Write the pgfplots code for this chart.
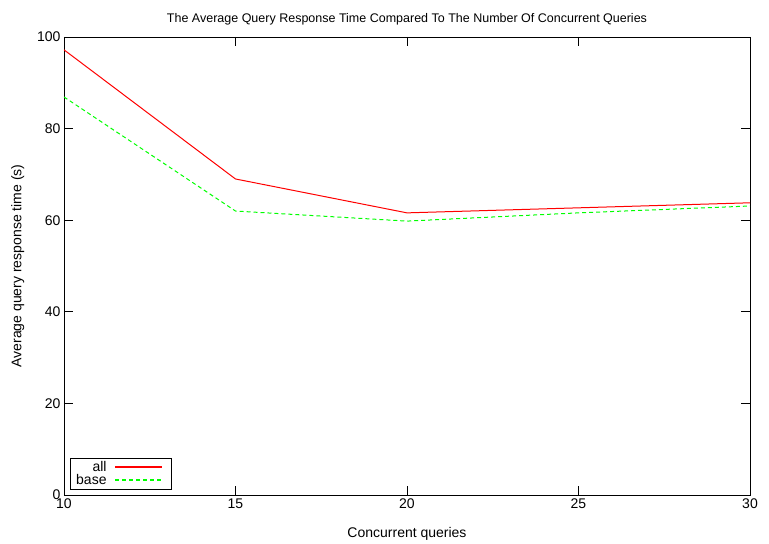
\documentclass[border=0pt]{standalone}
\usepackage{pgfplots}
\pgfplotsset{compat=1.18}
\usepackage{fontspec}
\setmainfont{Liberation Sans}
\definecolor{gpred}{RGB}{255,0,0}
\definecolor{gpgreen}{RGB}{0,255,0}

\begin{document}
\begin{tikzpicture}
\begin{axis}[
  name=ax,
  scale only axis,
  width=686pt, height=458pt,
  xmin=10, xmax=30, ymin=0, ymax=100,
  xtick={10,15,20,25,30},
  ytick={0,20,40,60,80,100},
  tick align=inside,
  major tick length=9pt,
  tick style={black, line width=0.8pt},
  axis line style={line width=0.8pt},
  /pgf/number format/assume math mode=true,
  tick label style={font=\fontsize{14}{16}\selectfont},
  title={The Average Query Response Time Compared To The Number Of Concurrent Queries},
  title style={font=\fontsize{12.5}{14}\selectfont, yshift=2pt},
  xlabel={Concurrent queries},
  ylabel={Average query response time (s)},
  label style={font=\fontsize{14}{16}\selectfont},
  xlabel style={yshift=-12pt},
  ylabel style={yshift=6pt},
  legend cell align=right,
  legend plot pos=right,
  legend style={at={(6pt,6pt)}, anchor=south west,
    font=\fontsize{14}{15}\selectfont, inner xsep=4pt, inner ysep=1pt,
    row sep=-3pt, column sep=6pt},
]
\addplot[color=gpred, line width=1pt,
  legend image code/.code={\fill[gpred] (0pt,-0.6pt) rectangle (46pt,0.6pt); \path (52pt,0pt);}] coordinates {
  (10,97.2) (15,69.0) (20,61.6) (25,62.7) (30,63.8)
};
\addlegendentry{all}
\addplot[color=gpgreen, line width=1pt, dash pattern=on 4pt off 3pt,
  legend image code/.code={\draw[draw=gpgreen, line width=1.1pt, dash pattern=on 4pt off 3pt] (0pt,0pt) -- (46pt,0pt); \path (52pt,0pt);}] coordinates {
  (10,86.9) (15,62.0) (20,59.8) (25,61.6) (30,63.1)
};
\addlegendentry{base}
\end{axis}
\path (ax.south west) ++(-64pt,-47pt) rectangle ++(769pt,542pt);
\end{tikzpicture}
\end{document}
